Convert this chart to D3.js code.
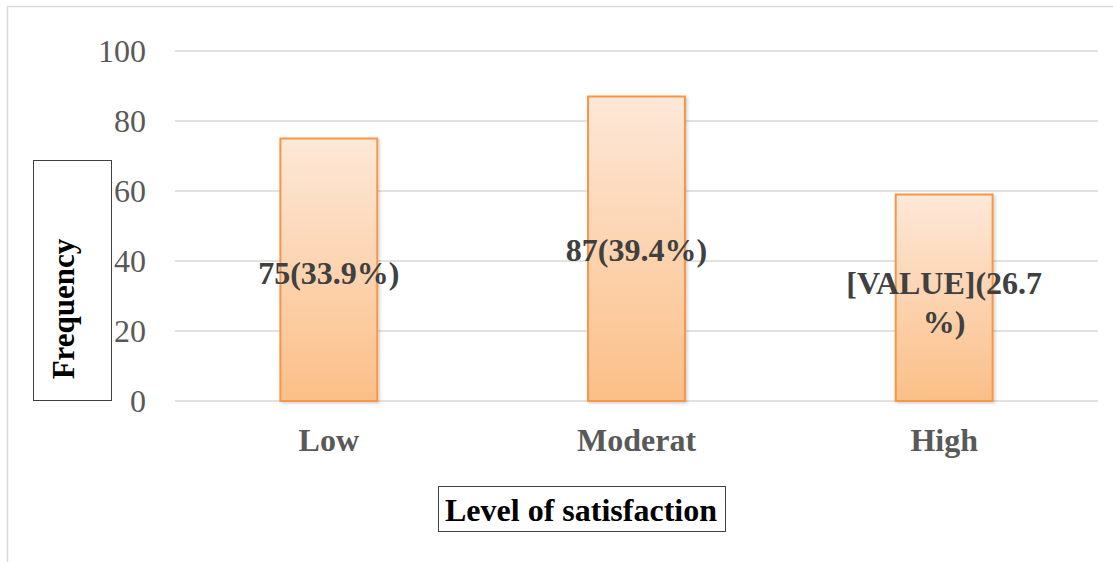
<!DOCTYPE html>
<html>
<head>
<meta charset="utf-8">
<script src="https://cdn.jsdelivr.net/npm/d3@7"></script>
<style>
  body { margin: 0; background: #fff; }
  svg text { font-family: "Liberation Serif", "Times New Roman", serif; }
</style>
</head>
<body>
<div id="chart"></div>
<script>
const categories = ["Low", "Moderat", "High"];
const frequencies = [75, 87, 59];
const labelLines = [["75(33.9%)"], ["87(39.4%)"], ["[VALUE](26.7", "%)"]];
const yTicks = [0, 20, 40, 60, 80, 100];

const W = 1113, H = 562;
const margin = {top: 51, right: 15, bottom: 161, left: 175};

const svg = d3.select("#chart").append("svg")
  .attr("width", W).attr("height", H);

// gradient + shadow for the bars
const defs = svg.append("defs");
const grad = defs.append("linearGradient")
  .attr("id", "barFill").attr("x1", 0).attr("y1", 0).attr("x2", 0).attr("y2", 1);
grad.append("stop").attr("offset", "0%").attr("stop-color", "#fde8d8");
grad.append("stop").attr("offset", "100%").attr("stop-color", "#fbbf88");
const shadow = defs.append("filter").attr("id", "shadow")
  .attr("x", "-20%").attr("y", "-20%").attr("width", "150%").attr("height", "150%");
shadow.append("feDropShadow").attr("dx", 1.5).attr("dy", 1.5)
  .attr("stdDeviation", 1.5).attr("flood-color", "#000").attr("flood-opacity", 0.18);

// outer frame
svg.append("rect")
  .attr("x", 7.5).attr("y", 6.5).attr("width", W + 10).attr("height", H + 10)
  .attr("fill", "none").attr("stroke", "#d9d9d9").attr("stroke-width", 1.5);

const x = d3.scaleBand()
  .domain(categories)
  .range([margin.left, W - margin.right])
  .paddingInner(0.685).paddingOuter(0.3425);

const y = d3.scaleLinear()
  .domain([0, 100])
  .range([H - margin.bottom, margin.top]);

// gridlines
svg.append("g")
  .selectAll("line").data(yTicks).join("line")
  .attr("x1", margin.left).attr("x2", W - margin.right)
  .attr("y1", d => y(d)).attr("y2", d => y(d))
  .attr("stroke", "#d9d9d9").attr("stroke-width", 1.5);

// y axis labels
const yAxis = svg.append("g")
  .attr("transform", `translate(${margin.left - 29},0)`)
  .call(d3.axisLeft(y).tickValues(yTicks).tickSize(0).tickPadding(0));
yAxis.select(".domain").remove();
yAxis.selectAll("text")
  .attr("fill", "#595959")
  .style("font-size", "32px")
  .style("font-family", "'Liberation Serif', serif");

// bars
svg.append("g")
  .selectAll("rect").data(frequencies).join("rect")
  .attr("x", (d, i) => x(categories[i]))
  .attr("y", d => y(d))
  .attr("width", x.bandwidth())
  .attr("height", d => y(0) - y(d))
  .attr("fill", "url(#barFill)")
  .attr("stroke", "#f79646").attr("stroke-width", 2)
  .attr("filter", "url(#shadow)");

// x axis labels
const xAxis = svg.append("g")
  .attr("transform", `translate(0,${y(0)})`)
  .call(d3.axisBottom(x).tickSize(0).tickPadding(27));
xAxis.select(".domain").remove();
xAxis.selectAll("text")
  .attr("fill", "#595959")
  .style("font-size", "32px")
  .style("font-weight", "bold")
  .style("font-family", "'Liberation Serif', serif");

// data labels
const labelY = [284, 261, 294];
const labels = svg.append("g")
  .selectAll("text").data(labelLines).join("text")
  .attr("text-anchor", "middle")
  .attr("fill", "#404040")
  .style("font-size", "32px")
  .style("font-weight", "bold");
labels.each(function(lines, i) {
  d3.select(this).selectAll("tspan").data(lines).join("tspan")
    .attr("x", x(categories[i]) + x.bandwidth() / 2)
    .attr("y", (l, j) => labelY[i] + j * 39)
    .text(l => l);
});

// y title box
svg.append("rect")
  .attr("x", 33.5).attr("y", 160.5).attr("width", 78).attr("height", 240)
  .attr("fill", "#fff").attr("stroke", "#404040").attr("stroke-width", 1);
svg.append("text")
  .attr("transform", "translate(74,309) rotate(-90)")
  .attr("text-anchor", "middle")
  .attr("fill", "#000")
  .style("font-size", "31px")
  .style("font-weight", "bold")
  .text("Frequency");

// x title box
svg.append("rect")
  .attr("x", 438.5).attr("y", 486.5).attr("width", 287).attr("height", 45)
  .attr("fill", "#fff").attr("stroke", "#404040").attr("stroke-width", 1);
svg.append("text")
  .attr("x", 581).attr("y", 521)
  .attr("text-anchor", "middle")
  .attr("fill", "#000")
  .style("font-size", "32px")
  .style("font-weight", "bold")
  .text("Level of satisfaction");
</script>
</body>
</html>
